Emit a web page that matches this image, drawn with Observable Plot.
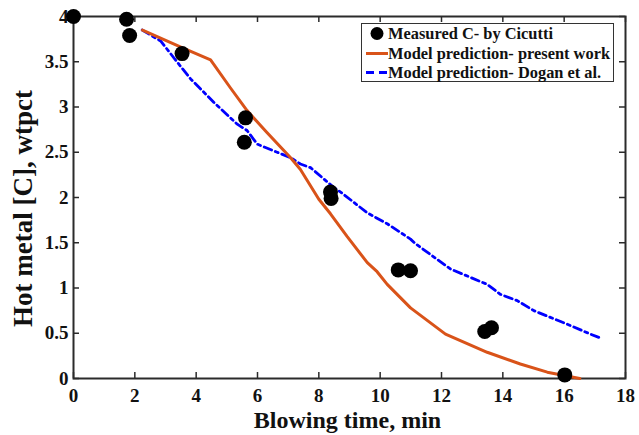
<!DOCTYPE html>
<html><head><meta charset="utf-8">
<script src="https://cdn.jsdelivr.net/npm/d3@7"></script>
<script src="https://cdn.jsdelivr.net/npm/@observablehq/plot@0.6"></script>
<style>
body{margin:0;background:#fff;}
#wrap{position:relative;width:639px;height:435px;}
#wrap svg text{font-family:"Liberation Serif","Times New Roman",serif;font-weight:bold;}
#legend{position:absolute;left:361px;top:23px;width:251px;height:57px;border:1.5px solid #333;background:#fff;
 font-family:"Liberation Serif","Times New Roman",serif;font-weight:bold;font-size:16.4px;color:#111;}
#legend .row{position:absolute;left:0;height:19px;line-height:19px;white-space:nowrap;}
#legend .sym{position:absolute;left:3px;top:0;width:24px;height:19px;}
#legend .lab{position:absolute;left:26px;top:0;}
</style></head>
<body>
<div id="wrap"></div>
<script>
// Measured carbon (Cicutti)
const measTime = [0, 1.73, 1.83, 3.54, 5.61, 5.57, 8.38, 8.40, 10.59, 10.99, 13.41, 13.63, 16.02];
const measC    = [4.0, 3.97, 3.79, 3.59, 2.88, 2.61, 2.06, 1.99, 1.20, 1.19, 0.52, 0.56, 0.04];
// Model prediction - present work
const presTime = [2.25, 3.52, 4.47, 5.12, 5.66, 6.30, 7.08, 7.40, 8.00, 8.38, 8.92, 9.58, 9.90, 10.23, 10.99, 12.13, 13.49, 14.57, 15.45, 16.51];
const presC    = [3.85, 3.66, 3.52, 3.21, 2.96, 2.72, 2.44, 2.31, 1.98, 1.82, 1.57, 1.28, 1.18, 1.04, 0.78, 0.49, 0.29, 0.16, 0.07, 0.0];
// Model prediction - Dogan et al.
const doganTime = [2.24, 2.84, 3.49, 3.82, 4.58, 5.34, 5.66, 5.99, 6.64, 7.08, 7.40, 7.73, 8.49, 8.71, 9.58, 10.23, 10.99, 11.15, 12.29, 13.49, 13.92, 14.47, 15.01, 16.10, 16.86, 17.24];
const doganC    = [3.85, 3.73, 3.45, 3.31, 3.05, 2.81, 2.74, 2.59, 2.50, 2.44, 2.37, 2.33, 2.11, 2.06, 1.83, 1.71, 1.54, 1.49, 1.21, 1.04, 0.93, 0.86, 0.75, 0.60, 0.49, 0.44];
const xTicks = [0, 2, 4, 6, 8, 10, 12, 14, 16, 18];
const yTicks = [0, 0.5, 1, 1.5, 2, 2.5, 3, 3.5, 4];
const xLabel = "Blowing time, min";
const yLabel = "Hot metal [C], wtpct";
const legendLabels = ["Measured C- by Cicutti", "Model prediction- present work", "Model prediction- Dogan et al."];

const meas = measTime.map((t, i) => ({t, c: measC[i]}));
const pres = presTime.map((t, i) => ({t, c: presC[i]}));
const dogan = doganTime.map((t, i) => ({t, c: doganC[i]}));

const W = 639, H = 435, mL = 73, mR = 14, mT = 16, mB = 57;
const pw = W - mL - mR, ph = H - mT - mB;
const tk = 6;
const axisCol = "#2b2b2b";

const chart = Plot.plot({
  width: W, height: H,
  marginLeft: mL, marginRight: mR, marginTop: mT, marginBottom: mB,
  x: {domain: [0, 18]},
  y: {domain: [0, 4]},
  style: {background: "#fff", color: "#111"},
  marks: [
    Plot.axisX(xTicks, {tickSize: 0, tickPadding: 10, tickFormat: d => String(d), fontSize: 19, label: null, fill: "#111"}),
    Plot.axisY(yTicks, {tickSize: 0, tickPadding: 5, tickFormat: d => String(d), fontSize: 19, label: null, fill: "#111"}),
    Plot.tickX(xTicks, {x: d => d, insetTop: ph - tk, stroke: axisCol, strokeWidth: 1.5}),
    Plot.tickX(xTicks, {x: d => d, insetBottom: ph - tk, stroke: axisCol, strokeWidth: 1.5}),
    Plot.tickY(yTicks, {y: d => d, insetRight: pw - tk, stroke: axisCol, strokeWidth: 1.5}),
    Plot.tickY(yTicks, {y: d => d, insetLeft: pw - tk, stroke: axisCol, strokeWidth: 1.5}),
    Plot.frame({stroke: axisCol, strokeWidth: 2}),
    Plot.line(dogan, {x: "t", y: "c", stroke: "#0000ff", strokeWidth: 2.8, strokeDasharray: "8,4,3,4"}),
    Plot.line(pres, {x: "t", y: "c", stroke: "#d95319", strokeWidth: 3}),
    Plot.dot(meas, {x: "t", y: "c", r: 7.5, fill: "#000", stroke: "none"}),
    Plot.text([xLabel], {text: d => d, frameAnchor: "bottom", lineAnchor: "middle", textAnchor: "middle", dy: 42, dx: -2, fontSize: 24, fill: "#111"}),
    Plot.text([yLabel], {text: d => d, frameAnchor: "left", lineAnchor: "middle", textAnchor: "middle", dx: -50, dy: 11, rotate: -90, fontSize: 27, fill: "#111"})
  ]
});
const wrap = document.getElementById("wrap");
wrap.appendChild(chart);

const leg = document.createElement("div");
leg.id = "legend";
const syms = [
  `<svg class="sym" width="24" height="19"><circle cx="12" cy="9.5" r="6.5" fill="#000"/></svg>`,
  `<svg class="sym" width="24" height="19"><line x1="1" y1="9.5" x2="23" y2="9.5" stroke="#d95319" stroke-width="3"/></svg>`,
  `<svg class="sym" width="24" height="19"><line x1="1" y1="9.5" x2="23" y2="9.5" stroke="#0000ff" stroke-width="2.8" stroke-dasharray="8,5"/></svg>`
];
legendLabels.forEach((l, i) => {
  const r = document.createElement("div");
  r.className = "row";
  r.style.top = (i * 19.5) + "px";
  r.innerHTML = syms[i] + `<span class="lab">${l}</span>`;
  leg.appendChild(r);
});
wrap.appendChild(leg);
</script>
</body></html>
